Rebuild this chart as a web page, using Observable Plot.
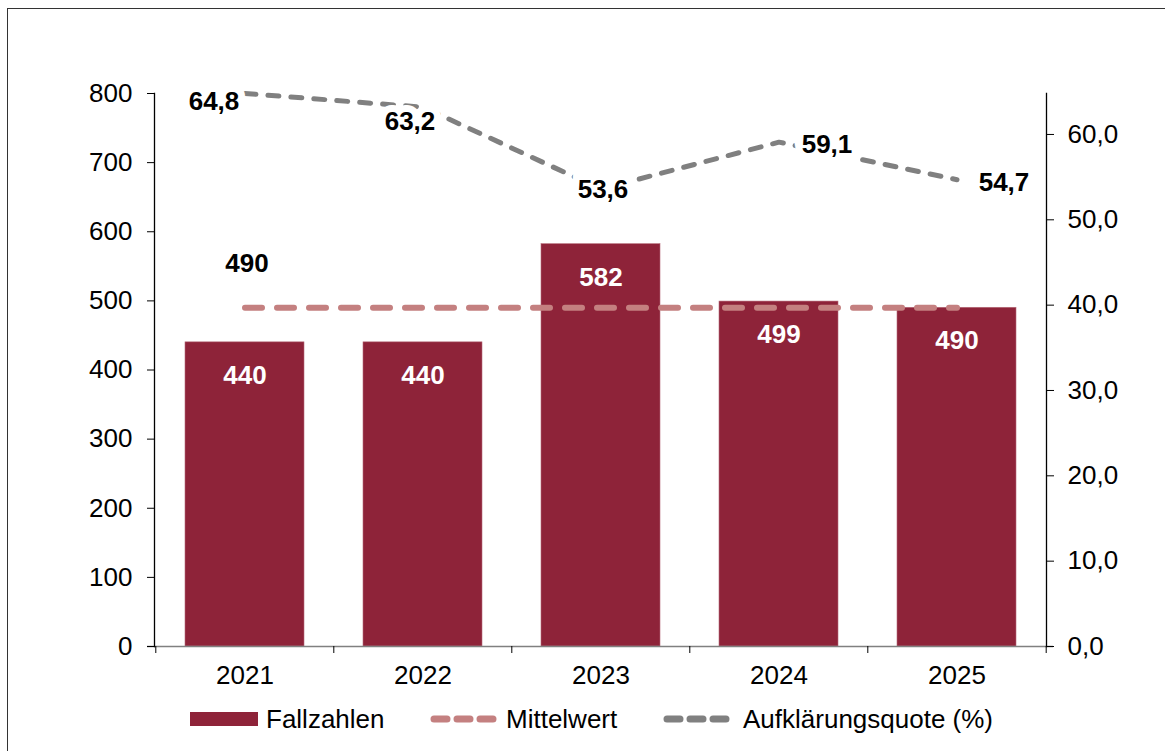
<!DOCTYPE html>
<html>
<head>
<meta charset="utf-8">
<script src="https://cdn.jsdelivr.net/npm/d3@7"></script>
<script src="https://cdn.jsdelivr.net/npm/@observablehq/plot@0.6"></script>
<style>
  html, body { margin: 0; padding: 0; background: #fff; width: 1165px; height: 751px; overflow: hidden; }
  body { position: relative; font-family: "Liberation Sans", Arial, sans-serif; }
  #frame { position: absolute; left: 7px; top: 8px; width: 1170px; height: 760px; border-left: 1.5px solid #333; border-top: 1.5px solid #333; }
  #chart { position: absolute; left: 0; top: 0; }
  #legend { position: absolute; left: 0; top: 700px; width: 1165px; height: 40px; font-size: 26px; color: #000; }
  .sw { position: absolute; top: 12px; line-height: 0; }
  .sw svg { display: block; }
  .lt { position: absolute; top: 19px; transform: translateY(-50%); line-height: 1; white-space: nowrap; }
</style>
</head>
<body>
<div id="frame"></div>
<div id="chart"></div>
<div id="legend"></div>
<script>
// ---- data ----
const years = ["2021", "2022", "2023", "2024", "2025"];
const cases = [440, 440, 582, 499, 490];          // Fallzahlen
const clearance = [64.8, 63.2, 53.6, 59.1, 54.7]; // Aufklärungsquote (%)
const meanValue = 490;                            // Mittelwert
const leftTicks = [0, 100, 200, 300, 400, 500, 600, 700, 800];
const rightTicks = [0, 10, 20, 30, 40, 50, 60];
const leftMax = 800;
const rightMax = 64.8;
const seriesNames = ["Fallzahlen", "Mittelwert", "Aufklärungsquote (%)"];

// ---- derived tables ----
const k = leftMax / rightMax;
const rows = years.map((y, i) => ({year: y, cases: cases[i], clr: clearance[i], clrScaled: clearance[i] * k, mean: meanValue}));
const fmt1 = v => v.toFixed(1).replace(".", ",");

const barColor = "#8E2339";
const meanColor = "#C48080";
const greyColor = "#808080";
const font = "Liberation Sans, Arial, sans-serif";
const FS = 26;

const W = 1165, H = 690;
const mL = 154, mR = 1165 - 1046, mT = 93, mB = H - 646;
const step = (W - mL - mR) / years.length;
const tickLen = leftMax * 7 / (646 - 93);

const labelOffsets = [[-31, 8], [-13, 15], [2, 1], [48, 3], [47, 3]];

const greyLabels = rows.map((d, i) => Plot.text([d], {
  x: "year", y: "clrScaled", text: d => fmt1(d.clr),
  dx: labelOffsets[i][0], dy: labelOffsets[i][1],
  fill: "#000", stroke: "white", strokeWidth: 14, strokeLinejoin: "miter",
  fontWeight: "bold", fontSize: FS
}));

const chart = Plot.plot({
  width: W, height: H,
  marginLeft: mL, marginRight: mR, marginTop: mT, marginBottom: mB,
  style: {fontFamily: font, fontSize: FS + "px", color: "#000", background: "transparent", overflow: "visible"},
  x: {domain: years, type: "band", paddingInner: 1/3, paddingOuter: 1/6, label: null},
  y: {domain: [0, leftMax], label: null},
  marks: [
    Plot.barY(rows, {x: "year", y: "cases", fill: barColor, stroke: "#B56A78", strokeWidth: 0.6}),
    Plot.text(rows, {x: "year", y: "cases", text: d => String(d.cases), dy: 33, fill: "white", fontWeight: "bold", fontSize: FS}),
    // baseline
    Plot.ruleY([0], {stroke: greyColor, strokeWidth: 1.5, insetLeft: -7, insetRight: -7}),
    // left & right axis lines
    Plot.frame({anchor: "left", stroke: "#000", strokeWidth: 1.3}),
    Plot.frame({anchor: "right", stroke: "#000", strokeWidth: 1.3}),
    // x boundary ticks
    Plot.ruleX(years, {x: d => d, dx: -step / 2, y1: 0, y2: -tickLen, stroke: "#000", strokeWidth: 1}),
    Plot.ruleX([years[years.length - 1]], {x: d => d, dx: step / 2, y1: 0, y2: -tickLen, stroke: "#000", strokeWidth: 1}),
    Plot.axisX({tickSize: 0, tickPadding: 19, fontSize: FS}),
    Plot.axisY(leftTicks, {anchor: "left", tickSize: 7, tickPadding: 15, fontSize: FS, tickFormat: d => String(d)}),
    Plot.axisY(rightTicks.map(v => v * k), {anchor: "right", tickSize: 7, tickPadding: 14, fontSize: FS, tickFormat: d => fmt1(d / k)}),
    // mean line
    Plot.line(rows, {x: "year", y: "mean", stroke: meanColor, strokeWidth: 6, strokeDasharray: "17,15", strokeLinecap: "round"}),
    Plot.text([rows[0]], {x: "year", y: "mean", text: d => String(d.mean), dx: 2, dy: -44, fontWeight: "bold", fontSize: FS, fill: "#000"}),
    // clearance line
    Plot.line(rows, {x: "year", y: "clrScaled", stroke: greyColor, strokeWidth: 5, strokeDasharray: "11,12", strokeLinecap: "round"}),
    ...greyLabels
  ]
});
document.getElementById("chart").appendChild(chart);

// ---- legend ----
const legend = document.getElementById("legend");
const legendItems = [
  {name: seriesNames[0], sw: 190, text: 266, swatch: `<svg width="68" height="14"><rect width="68" height="14" fill="${barColor}"/></svg>`},
  {name: seriesNames[1], sw: 430, text: 506, swatch: `<svg width="74" height="14"><line x1="4" x2="70" y1="7" y2="7" stroke="${meanColor}" stroke-width="7" stroke-linecap="round" stroke-dasharray="13,10"/></svg>`},
  {name: seriesNames[2], sw: 663, text: 743, swatch: `<svg width="74" height="14"><line x1="4" x2="70" y1="7" y2="7" stroke="${greyColor}" stroke-width="7" stroke-linecap="round" stroke-dasharray="13,10"/></svg>`}
];
for (const it of legendItems) {
  const s = document.createElement("div");
  s.className = "sw";
  s.style.left = it.sw + "px";
  s.innerHTML = it.swatch;
  legend.appendChild(s);
  const t = document.createElement("div");
  t.className = "lt";
  t.style.left = it.text + "px";
  t.textContent = it.name;
  legend.appendChild(t);
}
</script>
</body>
</html>
